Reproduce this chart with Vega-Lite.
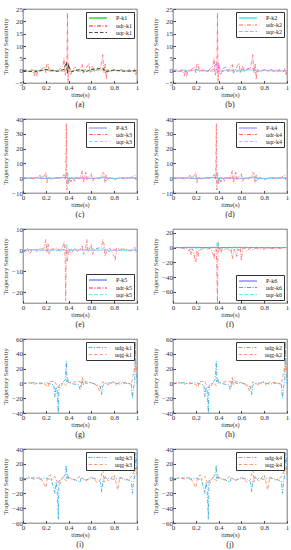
{
"$schema":"https://vega.github.io/schema/vega-lite/v6.json",
"padding":{"left":1,"top":4,"right":1,"bottom":0},
"background":"white",
"datasets":{
"ab":[
{"t":0,"v":0.1,"s":"P"},{"t":0.05,"v":-0.2,"s":"P"},{"t":0.1,"v":0.2,"s":"P"},{"t":0.15,"v":-0.2,"s":"P"},{"t":0.2,"v":0.3,"s":"P"},{"t":0.25,"v":-0.2,"s":"P"},{"t":0.3,"v":0.1,"s":"P"},{"t":0.35,"v":-0.3,"s":"P"},{"t":0.38,"v":0.4,"s":"P"},{"t":0.4,"v":-0.3,"s":"P"},{"t":0.45,"v":0.2,"s":"P"},{"t":0.5,"v":-0.2,"s":"P"},{"t":0.55,"v":0.2,"s":"P"},{"t":0.6,"v":-0.2,"s":"P"},{"t":0.65,"v":0.2,"s":"P"},{"t":0.7,"v":0.3,"s":"P"},{"t":0.75,"v":-0.2,"s":"P"},{"t":0.8,"v":0.1,"s":"P"},{"t":0.85,"v":-0.1,"s":"P"},{"t":0.9,"v":0.1,"s":"P"},{"t":0.95,"v":-0.1,"s":"P"},{"t":1,"v":0,"s":"P"},
{"t":0,"v":0,"s":"udr"},{"t":0.03,"v":0.3,"s":"udr"},{"t":0.05,"v":-0.5,"s":"udr"},{"t":0.08,"v":0.5,"s":"udr"},{"t":0.1,"v":-2,"s":"udr"},{"t":0.11,"v":0.5,"s":"udr"},{"t":0.12,"v":-2.5,"s":"udr"},{"t":0.13,"v":0,"s":"udr"},{"t":0.16,"v":0.5,"s":"udr"},{"t":0.19,"v":1.5,"s":"udr"},{"t":0.2,"v":-0.8,"s":"udr"},{"t":0.21,"v":2.5,"s":"udr"},{"t":0.22,"v":3,"s":"udr"},{"t":0.23,"v":-0.5,"s":"udr"},{"t":0.26,"v":0.3,"s":"udr"},{"t":0.3,"v":-0.5,"s":"udr"},{"t":0.33,"v":1,"s":"udr"},{"t":0.35,"v":2,"s":"udr"},{"t":0.36,"v":5,"s":"udr"},{"t":0.37,"v":-2,"s":"udr"},{"t":0.385,"v":1,"s":"udr"},{"t":0.39,"v":23.5,"s":"udr"},{"t":0.395,"v":-4.5,"s":"udr"},{"t":0.4,"v":3,"s":"udr"},{"t":0.41,"v":-1,"s":"udr"},{"t":0.42,"v":-1.5,"s":"udr"},{"t":0.44,"v":0.8,"s":"udr"},{"t":0.46,"v":1.5,"s":"udr"},{"t":0.48,"v":-0.5,"s":"udr"},{"t":0.5,"v":0.5,"s":"udr"},{"t":0.52,"v":2.5,"s":"udr"},{"t":0.53,"v":-1,"s":"udr"},{"t":0.55,"v":0.8,"s":"udr"},{"t":0.58,"v":3,"s":"udr"},{"t":0.59,"v":-1,"s":"udr"},{"t":0.61,"v":2,"s":"udr"},{"t":0.62,"v":-0.5,"s":"udr"},{"t":0.65,"v":0.5,"s":"udr"},{"t":0.68,"v":1,"s":"udr"},{"t":0.7,"v":6.5,"s":"udr"},{"t":0.71,"v":-1,"s":"udr"},{"t":0.72,"v":3,"s":"udr"},{"t":0.73,"v":-3.5,"s":"udr"},{"t":0.74,"v":0.5,"s":"udr"},{"t":0.77,"v":-0.5,"s":"udr"},{"t":0.8,"v":0.5,"s":"udr"},{"t":0.83,"v":-0.5,"s":"udr"},{"t":0.86,"v":0.5,"s":"udr"},{"t":0.9,"v":-0.3,"s":"udr"},{"t":0.94,"v":0.5,"s":"udr"},{"t":0.97,"v":-0.5,"s":"udr"},{"t":0.98,"v":0.8,"s":"udr"},{"t":0.99,"v":-1.5,"s":"udr"},{"t":1,"v":0,"s":"udr"},
{"t":0,"v":0,"s":"uqr"},{"t":0.1,"v":-0.5,"s":"uqr"},{"t":0.2,"v":0.5,"s":"uqr"},{"t":0.3,"v":-0.3,"s":"uqr"},{"t":0.36,"v":0.5,"s":"uqr"},{"t":0.38,"v":3.5,"s":"uqr"},{"t":0.39,"v":-1,"s":"uqr"},{"t":0.4,"v":2.5,"s":"uqr"},{"t":0.42,"v":-0.5,"s":"uqr"},{"t":0.5,"v":0.5,"s":"uqr"},{"t":0.55,"v":-0.5,"s":"uqr"},{"t":0.6,"v":0.5,"s":"uqr"},{"t":0.7,"v":1,"s":"uqr"},{"t":0.72,"v":-0.5,"s":"uqr"},{"t":0.8,"v":0.3,"s":"uqr"},{"t":0.9,"v":-0.3,"s":"uqr"},{"t":1,"v":0,"s":"uqr"}
],
"cd":[
{"t":0,"v":0,"s":"P"},{"t":0.1,"v":0.2,"s":"P"},{"t":0.2,"v":-0.2,"s":"P"},{"t":0.3,"v":0.2,"s":"P"},{"t":0.38,"v":0.5,"s":"P"},{"t":0.4,"v":-0.3,"s":"P"},{"t":0.5,"v":0.2,"s":"P"},{"t":0.6,"v":-0.2,"s":"P"},{"t":0.7,"v":0.3,"s":"P"},{"t":0.8,"v":-0.2,"s":"P"},{"t":0.9,"v":0.2,"s":"P"},{"t":1,"v":0,"s":"P"},
{"t":0,"v":0,"s":"udr"},{"t":0.05,"v":0.3,"s":"udr"},{"t":0.1,"v":-0.5,"s":"udr"},{"t":0.13,"v":0.5,"s":"udr"},{"t":0.15,"v":2,"s":"udr"},{"t":0.16,"v":-0.5,"s":"udr"},{"t":0.18,"v":1,"s":"udr"},{"t":0.2,"v":4,"s":"udr"},{"t":0.21,"v":-3,"s":"udr"},{"t":0.22,"v":1,"s":"udr"},{"t":0.25,"v":-0.5,"s":"udr"},{"t":0.3,"v":0.5,"s":"udr"},{"t":0.33,"v":-0.5,"s":"udr"},{"t":0.35,"v":1.5,"s":"udr"},{"t":0.36,"v":2.5,"s":"udr"},{"t":0.37,"v":-1,"s":"udr"},{"t":0.375,"v":1,"s":"udr"},{"t":0.38,"v":37,"s":"udr"},{"t":0.385,"v":-8,"s":"udr"},{"t":0.39,"v":3,"s":"udr"},{"t":0.4,"v":-4,"s":"udr"},{"t":0.41,"v":1,"s":"udr"},{"t":0.42,"v":-2.5,"s":"udr"},{"t":0.44,"v":0.5,"s":"udr"},{"t":0.45,"v":-2,"s":"udr"},{"t":0.47,"v":0.5,"s":"udr"},{"t":0.5,"v":-0.5,"s":"udr"},{"t":0.52,"v":5,"s":"udr"},{"t":0.53,"v":-3,"s":"udr"},{"t":0.54,"v":1,"s":"udr"},{"t":0.55,"v":4,"s":"udr"},{"t":0.56,"v":-1,"s":"udr"},{"t":0.58,"v":1,"s":"udr"},{"t":0.6,"v":3,"s":"udr"},{"t":0.61,"v":-2,"s":"udr"},{"t":0.63,"v":0.5,"s":"udr"},{"t":0.66,"v":-0.5,"s":"udr"},{"t":0.69,"v":1,"s":"udr"},{"t":0.7,"v":4,"s":"udr"},{"t":0.71,"v":3,"s":"udr"},{"t":0.72,"v":-3,"s":"udr"},{"t":0.73,"v":2,"s":"udr"},{"t":0.74,"v":-1,"s":"udr"},{"t":0.77,"v":0.5,"s":"udr"},{"t":0.8,"v":-1,"s":"udr"},{"t":0.85,"v":0.5,"s":"udr"},{"t":0.9,"v":-0.5,"s":"udr"},{"t":0.95,"v":0.5,"s":"udr"},{"t":0.98,"v":2,"s":"udr"},{"t":0.99,"v":-1,"s":"udr"},{"t":1,"v":0,"s":"udr"},
{"t":0,"v":0,"s":"uqr"},{"t":0.1,"v":0.3,"s":"uqr"},{"t":0.2,"v":1,"s":"uqr"},{"t":0.21,"v":-0.5,"s":"uqr"},{"t":0.3,"v":0.2,"s":"uqr"},{"t":0.37,"v":0.5,"s":"uqr"},{"t":0.38,"v":3,"s":"uqr"},{"t":0.39,"v":4,"s":"uqr"},{"t":0.4,"v":-2,"s":"uqr"},{"t":0.42,"v":0.5,"s":"uqr"},{"t":0.5,"v":0.3,"s":"uqr"},{"t":0.55,"v":0.5,"s":"uqr"},{"t":0.6,"v":1,"s":"uqr"},{"t":0.62,"v":-0.5,"s":"uqr"},{"t":0.7,"v":1,"s":"uqr"},{"t":0.72,"v":2,"s":"uqr"},{"t":0.73,"v":-2,"s":"uqr"},{"t":0.75,"v":0.3,"s":"uqr"},{"t":0.8,"v":-0.3,"s":"uqr"},{"t":0.9,"v":0.3,"s":"uqr"},{"t":1,"v":0,"s":"uqr"}
],
"e":[
{"t":0,"v":0,"s":"P"},{"t":0.1,"v":0.1,"s":"P"},{"t":0.2,"v":-0.1,"s":"P"},{"t":0.3,"v":0.1,"s":"P"},{"t":0.4,"v":-0.1,"s":"P"},{"t":0.5,"v":0.1,"s":"P"},{"t":0.6,"v":-0.1,"s":"P"},{"t":0.7,"v":0.1,"s":"P"},{"t":0.8,"v":-0.1,"s":"P"},{"t":0.9,"v":0.1,"s":"P"},{"t":1,"v":0,"s":"P"},
{"t":0,"v":0,"s":"udr"},{"t":0.02,"v":-1,"s":"udr"},{"t":0.04,"v":1,"s":"udr"},{"t":0.06,"v":-2,"s":"udr"},{"t":0.08,"v":0.5,"s":"udr"},{"t":0.12,"v":-0.5,"s":"udr"},{"t":0.15,"v":1,"s":"udr"},{"t":0.18,"v":0.5,"s":"udr"},{"t":0.19,"v":2,"s":"udr"},{"t":0.2,"v":5,"s":"udr"},{"t":0.21,"v":-1,"s":"udr"},{"t":0.22,"v":3,"s":"udr"},{"t":0.23,"v":-2,"s":"udr"},{"t":0.25,"v":0.5,"s":"udr"},{"t":0.3,"v":1,"s":"udr"},{"t":0.33,"v":-0.5,"s":"udr"},{"t":0.35,"v":2,"s":"udr"},{"t":0.36,"v":4,"s":"udr"},{"t":0.37,"v":-3,"s":"udr"},{"t":0.375,"v":-24,"s":"udr"},{"t":0.38,"v":1,"s":"udr"},{"t":0.39,"v":-5,"s":"udr"},{"t":0.4,"v":1,"s":"udr"},{"t":0.42,"v":-2,"s":"udr"},{"t":0.45,"v":1,"s":"udr"},{"t":0.48,"v":-0.5,"s":"udr"},{"t":0.5,"v":0.5,"s":"udr"},{"t":0.52,"v":2,"s":"udr"},{"t":0.53,"v":-2,"s":"udr"},{"t":0.55,"v":1,"s":"udr"},{"t":0.56,"v":5,"s":"udr"},{"t":0.57,"v":-1,"s":"udr"},{"t":0.6,"v":3,"s":"udr"},{"t":0.61,"v":-2,"s":"udr"},{"t":0.63,"v":0.5,"s":"udr"},{"t":0.66,"v":1,"s":"udr"},{"t":0.69,"v":1.5,"s":"udr"},{"t":0.7,"v":5,"s":"udr"},{"t":0.71,"v":3,"s":"udr"},{"t":0.72,"v":-3,"s":"udr"},{"t":0.74,"v":0.5,"s":"udr"},{"t":0.76,"v":1,"s":"udr"},{"t":0.78,"v":-1,"s":"udr"},{"t":0.8,"v":-3,"s":"udr"},{"t":0.81,"v":-5,"s":"udr"},{"t":0.82,"v":1,"s":"udr"},{"t":0.85,"v":0.5,"s":"udr"},{"t":0.9,"v":0.5,"s":"udr"},{"t":0.94,"v":-0.5,"s":"udr"},{"t":0.98,"v":1.5,"s":"udr"},{"t":0.99,"v":-1,"s":"udr"},{"t":1,"v":0,"s":"udr"},
{"t":0,"v":0,"s":"uqr"},{"t":0.1,"v":0.3,"s":"uqr"},{"t":0.2,"v":0.5,"s":"uqr"},{"t":0.3,"v":-0.3,"s":"uqr"},{"t":0.37,"v":0.5,"s":"uqr"},{"t":0.38,"v":3,"s":"uqr"},{"t":0.39,"v":-1,"s":"uqr"},{"t":0.4,"v":-1.5,"s":"uqr"},{"t":0.42,"v":0.5,"s":"uqr"},{"t":0.5,"v":0.3,"s":"uqr"},{"t":0.6,"v":0.5,"s":"uqr"},{"t":0.7,"v":0.8,"s":"uqr"},{"t":0.72,"v":1.5,"s":"uqr"},{"t":0.73,"v":-1,"s":"uqr"},{"t":0.8,"v":0.3,"s":"uqr"},{"t":0.9,"v":-0.3,"s":"uqr"},{"t":1,"v":0,"s":"uqr"}
],
"f":[
{"t":0,"v":0,"s":"P"},{"t":0.2,"v":0.2,"s":"P"},{"t":0.4,"v":-0.2,"s":"P"},{"t":0.6,"v":0.2,"s":"P"},{"t":0.8,"v":-0.2,"s":"P"},{"t":1,"v":0,"s":"P"},
{"t":0,"v":0,"s":"udr"},{"t":0.05,"v":-0.5,"s":"udr"},{"t":0.08,"v":-1,"s":"udr"},{"t":0.1,"v":-2,"s":"udr"},{"t":0.12,"v":-1,"s":"udr"},{"t":0.14,"v":-5,"s":"udr"},{"t":0.15,"v":-1,"s":"udr"},{"t":0.16,"v":-10,"s":"udr"},{"t":0.17,"v":-2,"s":"udr"},{"t":0.18,"v":-4,"s":"udr"},{"t":0.19,"v":-15,"s":"udr"},{"t":0.2,"v":-20,"s":"udr"},{"t":0.21,"v":-5,"s":"udr"},{"t":0.22,"v":-12,"s":"udr"},{"t":0.23,"v":-2,"s":"udr"},{"t":0.24,"v":-3,"s":"udr"},{"t":0.27,"v":-1,"s":"udr"},{"t":0.3,"v":-2,"s":"udr"},{"t":0.33,"v":-1,"s":"udr"},{"t":0.35,"v":-8,"s":"udr"},{"t":0.36,"v":-15,"s":"udr"},{"t":0.37,"v":-3,"s":"udr"},{"t":0.38,"v":-2,"s":"udr"},{"t":0.39,"v":-75,"s":"udr"},{"t":0.395,"v":8,"s":"udr"},{"t":0.4,"v":-5,"s":"udr"},{"t":0.41,"v":-1,"s":"udr"},{"t":0.42,"v":-8,"s":"udr"},{"t":0.43,"v":-2,"s":"udr"},{"t":0.45,"v":-3,"s":"udr"},{"t":0.48,"v":-1,"s":"udr"},{"t":0.5,"v":-5,"s":"udr"},{"t":0.51,"v":-2,"s":"udr"},{"t":0.52,"v":-15,"s":"udr"},{"t":0.53,"v":-8,"s":"udr"},{"t":0.54,"v":-2,"s":"udr"},{"t":0.56,"v":-12,"s":"udr"},{"t":0.57,"v":-2,"s":"udr"},{"t":0.58,"v":-5,"s":"udr"},{"t":0.59,"v":-1,"s":"udr"},{"t":0.6,"v":-18,"s":"udr"},{"t":0.61,"v":-2,"s":"udr"},{"t":0.63,"v":-1,"s":"udr"},{"t":0.65,"v":-5,"s":"udr"},{"t":0.67,"v":-1,"s":"udr"},{"t":0.7,"v":-3,"s":"udr"},{"t":0.73,"v":-1,"s":"udr"},{"t":0.75,"v":-2,"s":"udr"},{"t":0.8,"v":-2,"s":"udr"},{"t":0.85,"v":-1,"s":"udr"},{"t":0.9,"v":-2,"s":"udr"},{"t":0.95,"v":-1,"s":"udr"},{"t":1,"v":0,"s":"udr"},
{"t":0,"v":0,"s":"uqr"},{"t":0.1,"v":-0.5,"s":"uqr"},{"t":0.2,"v":-1,"s":"uqr"},{"t":0.3,"v":-0.5,"s":"uqr"},{"t":0.38,"v":1,"s":"uqr"},{"t":0.39,"v":8,"s":"uqr"},{"t":0.4,"v":3,"s":"uqr"},{"t":0.41,"v":-1,"s":"uqr"},{"t":0.5,"v":-0.5,"s":"uqr"},{"t":0.6,"v":-0.5,"s":"uqr"},{"t":0.7,"v":-0.3,"s":"uqr"},{"t":0.8,"v":-0.3,"s":"uqr"},{"t":0.9,"v":-0.2,"s":"uqr"},{"t":1,"v":0,"s":"uqr"}
],
"gh":[
{"t":0,"v":0,"s":"udg"},{"t":0.1,"v":1,"s":"udg"},{"t":0.15,"v":-0.5,"s":"udg"},{"t":0.2,"v":1,"s":"udg"},{"t":0.27,"v":-2,"s":"udg"},{"t":0.28,"v":-18,"s":"udg"},{"t":0.29,"v":-5,"s":"udg"},{"t":0.3,"v":-10,"s":"udg"},{"t":0.31,"v":-40,"s":"udg"},{"t":0.315,"v":-3,"s":"udg"},{"t":0.33,"v":-1,"s":"udg"},{"t":0.36,"v":3,"s":"udg"},{"t":0.37,"v":5,"s":"udg"},{"t":0.38,"v":30,"s":"udg"},{"t":0.385,"v":2,"s":"udg"},{"t":0.39,"v":8,"s":"udg"},{"t":0.4,"v":1,"s":"udg"},{"t":0.45,"v":-1,"s":"udg"},{"t":0.49,"v":-2,"s":"udg"},{"t":0.5,"v":-8,"s":"udg"},{"t":0.51,"v":-3,"s":"udg"},{"t":0.52,"v":2,"s":"udg"},{"t":0.53,"v":5,"s":"udg"},{"t":0.55,"v":0,"s":"udg"},{"t":0.6,"v":1,"s":"udg"},{"t":0.65,"v":-2,"s":"udg"},{"t":0.68,"v":-5,"s":"udg"},{"t":0.69,"v":-15,"s":"udg"},{"t":0.7,"v":-3,"s":"udg"},{"t":0.72,"v":0,"s":"udg"},{"t":0.8,"v":1,"s":"udg"},{"t":0.85,"v":-1,"s":"udg"},{"t":0.9,"v":0.5,"s":"udg"},{"t":0.95,"v":-1,"s":"udg"},{"t":0.96,"v":-20,"s":"udg"},{"t":0.97,"v":-5,"s":"udg"},{"t":0.98,"v":2,"s":"udg"},{"t":0.985,"v":57,"s":"udg"},{"t":0.99,"v":20,"s":"udg"},{"t":1,"v":0,"s":"udg"},
{"t":0,"v":0,"s":"uqg"},{"t":0.05,"v":1,"s":"uqg"},{"t":0.1,"v":-1,"s":"uqg"},{"t":0.15,"v":1,"s":"uqg"},{"t":0.2,"v":-2,"s":"uqg"},{"t":0.22,"v":-5,"s":"uqg"},{"t":0.23,"v":2,"s":"uqg"},{"t":0.28,"v":3,"s":"uqg"},{"t":0.3,"v":-5,"s":"uqg"},{"t":0.33,"v":-6,"s":"uqg"},{"t":0.35,"v":1,"s":"uqg"},{"t":0.38,"v":-3,"s":"uqg"},{"t":0.4,"v":1,"s":"uqg"},{"t":0.5,"v":3,"s":"uqg"},{"t":0.51,"v":-5,"s":"uqg"},{"t":0.52,"v":8,"s":"uqg"},{"t":0.53,"v":-2,"s":"uqg"},{"t":0.55,"v":3,"s":"uqg"},{"t":0.6,"v":1,"s":"uqg"},{"t":0.65,"v":-3,"s":"uqg"},{"t":0.67,"v":-10,"s":"uqg"},{"t":0.68,"v":-5,"s":"uqg"},{"t":0.7,"v":2,"s":"uqg"},{"t":0.75,"v":-2,"s":"uqg"},{"t":0.8,"v":3,"s":"uqg"},{"t":0.82,"v":-3,"s":"uqg"},{"t":0.85,"v":2,"s":"uqg"},{"t":0.9,"v":1,"s":"uqg"},{"t":0.95,"v":-1,"s":"uqg"},{"t":0.99,"v":30,"s":"uqg"},{"t":1,"v":10,"s":"uqg"}
],
"ij":[
{"t":0,"v":0,"s":"udg"},{"t":0.1,"v":1,"s":"udg"},{"t":0.12,"v":2,"s":"udg"},{"t":0.15,"v":-1,"s":"udg"},{"t":0.2,"v":1,"s":"udg"},{"t":0.25,"v":-2,"s":"udg"},{"t":0.28,"v":-20,"s":"udg"},{"t":0.29,"v":-5,"s":"udg"},{"t":0.3,"v":-15,"s":"udg"},{"t":0.31,"v":-55,"s":"udg"},{"t":0.315,"v":-3,"s":"udg"},{"t":0.33,"v":-2,"s":"udg"},{"t":0.36,"v":3,"s":"udg"},{"t":0.37,"v":5,"s":"udg"},{"t":0.38,"v":18,"s":"udg"},{"t":0.385,"v":0,"s":"udg"},{"t":0.39,"v":6,"s":"udg"},{"t":0.4,"v":0,"s":"udg"},{"t":0.45,"v":-1,"s":"udg"},{"t":0.5,"v":-5,"s":"udg"},{"t":0.51,"v":1,"s":"udg"},{"t":0.55,"v":-2,"s":"udg"},{"t":0.6,"v":1,"s":"udg"},{"t":0.65,"v":-1,"s":"udg"},{"t":0.68,"v":-5,"s":"udg"},{"t":0.69,"v":-18,"s":"udg"},{"t":0.7,"v":-2,"s":"udg"},{"t":0.72,"v":1,"s":"udg"},{"t":0.8,"v":-1,"s":"udg"},{"t":0.85,"v":1,"s":"udg"},{"t":0.9,"v":-1,"s":"udg"},{"t":0.95,"v":-3,"s":"udg"},{"t":0.96,"v":-20,"s":"udg"},{"t":0.97,"v":-5,"s":"udg"},{"t":0.98,"v":5,"s":"udg"},{"t":0.99,"v":35,"s":"udg"},{"t":1,"v":10,"s":"udg"},
{"t":0,"v":0,"s":"uqg"},{"t":0.02,"v":-3,"s":"uqg"},{"t":0.05,"v":2,"s":"uqg"},{"t":0.1,"v":-1,"s":"uqg"},{"t":0.15,"v":2,"s":"uqg"},{"t":0.2,"v":-12,"s":"uqg"},{"t":0.21,"v":-3,"s":"uqg"},{"t":0.22,"v":3,"s":"uqg"},{"t":0.24,"v":5,"s":"uqg"},{"t":0.25,"v":-2,"s":"uqg"},{"t":0.28,"v":3,"s":"uqg"},{"t":0.3,"v":-5,"s":"uqg"},{"t":0.32,"v":-8,"s":"uqg"},{"t":0.35,"v":2,"s":"uqg"},{"t":0.38,"v":-3,"s":"uqg"},{"t":0.4,"v":2,"s":"uqg"},{"t":0.45,"v":-2,"s":"uqg"},{"t":0.5,"v":3,"s":"uqg"},{"t":0.55,"v":-3,"s":"uqg"},{"t":0.6,"v":2,"s":"uqg"},{"t":0.65,"v":-5,"s":"uqg"},{"t":0.68,"v":-2,"s":"uqg"},{"t":0.7,"v":15,"s":"uqg"},{"t":0.71,"v":-5,"s":"uqg"},{"t":0.72,"v":3,"s":"uqg"},{"t":0.75,"v":-3,"s":"uqg"},{"t":0.8,"v":5,"s":"uqg"},{"t":0.82,"v":-8,"s":"uqg"},{"t":0.83,"v":-15,"s":"uqg"},{"t":0.85,"v":2,"s":"uqg"},{"t":0.9,"v":-2,"s":"uqg"},{"t":0.95,"v":2,"s":"uqg"},{"t":0.99,"v":15,"s":"uqg"},{"t":1,"v":5,"s":"uqg"}
]
},
"spacing":4,
"resolve":{"scale":{"x":"independent","y":"independent","color":"independent","strokeDash":"independent","strokeWidth":"independent"},"legend":{"color":"independent","strokeDash":"independent","strokeWidth":"independent"}},
"vconcat":[
{"spacing":11,"resolve":{"scale":{"x":"independent","y":"independent","color":"independent","strokeDash":"independent","strokeWidth":"independent"},"legend":{"color":"independent","strokeDash":"independent","strokeWidth":"independent"}},
"hconcat":[
{"width":114,"height":74,"data":{"name":"ab"},"mark":"line","title":"(a)",
"encoding":{
"x":{"field":"t","type":"quantitative","scale":{"domain":[0,1]},"axis":{"values":[0,0.2,0.4,0.6,0.8,1],"title":"time(s)"}},
"y":{"field":"v","type":"quantitative","scale":{"domain":[-5,25],"nice":false},"axis":{"values":[-5,0,5,10,15,20,25],"title":"Trajectory Sensitivity"}},
"color":{"field":"s","type":"nominal","title":null,"scale":{"domain":["P","udr","uqr"],"range":["#5ee65e","#ff6464","#222222"]},"legend":{"labelExpr":"datum.label+'-k1'"}},
"strokeDash":{"field":"s","type":"nominal","title":null,"scale":{"domain":["P","udr","uqr"],"range":[[1,0],[4,1.5,1,1.5],[3.5,2]]},"legend":{"labelExpr":"datum.label+'-k1'"}},
"strokeWidth":{"field":"s","type":"nominal","title":null,"scale":{"domain":["P","udr","uqr"],"range":[1.8,0.8,0.8]},"legend":{"labelExpr":"datum.label+'-k1'"}}}},
{"width":114,"height":74,"data":{"name":"ab"},"mark":"line","title":"(b)",
"encoding":{
"x":{"field":"t","type":"quantitative","scale":{"domain":[0,1]},"axis":{"values":[0,0.2,0.4,0.6,0.8,1],"title":"time(s)"}},
"y":{"field":"v","type":"quantitative","scale":{"domain":[-5,25],"nice":false},"axis":{"values":[-5,0,5,10,15,20,25],"title":"Trajectory Sensitivity"}},
"color":{"field":"s","type":"nominal","title":null,"scale":{"domain":["P","udr","uqr"],"range":["#40e8e8","#ff6464","#ff60ff"]},"legend":{"labelExpr":"datum.label+'-k2'"}},
"strokeDash":{"field":"s","type":"nominal","title":null,"scale":{"domain":["P","udr","uqr"],"range":[[1,0],[4,1.5,1,1.5],[3.5,2]]},"legend":{"labelExpr":"datum.label+'-k2'"}},
"strokeWidth":{"field":"s","type":"nominal","title":null,"scale":{"domain":["P","udr","uqr"],"range":[1.5,0.8,0.8]},"legend":{"labelExpr":"datum.label+'-k2'"}}}}
]},
{"spacing":11,"resolve":{"scale":{"x":"independent","y":"independent","color":"independent","strokeDash":"independent","strokeWidth":"independent"},"legend":{"color":"independent","strokeDash":"independent","strokeWidth":"independent"}},
"hconcat":[
{"width":114,"height":74,"data":{"name":"cd"},"mark":"line","title":"(c)",
"encoding":{
"x":{"field":"t","type":"quantitative","scale":{"domain":[0,1]},"axis":{"values":[0,0.2,0.4,0.6,0.8,1],"title":"time(s)"}},
"y":{"field":"v","type":"quantitative","scale":{"domain":[-10,40],"nice":false},"axis":{"values":[-10,0,10,20,30,40],"title":"Trajectory Sensitivity"}},
"color":{"field":"s","type":"nominal","title":null,"scale":{"domain":["P","udr","uqr"],"range":["#7a7aff","#ff6464","#40e0f0"]},"legend":{"labelExpr":"datum.label+'-k3'"}},
"strokeDash":{"field":"s","type":"nominal","title":null,"scale":{"domain":["P","udr","uqr"],"range":[[1,0],[4,1.5,1,1.5],[3.5,2]]},"legend":{"labelExpr":"datum.label+'-k3'"}},
"strokeWidth":{"field":"s","type":"nominal","title":null,"scale":{"domain":["P","udr","uqr"],"range":[1.2,0.8,1.2]},"legend":{"labelExpr":"datum.label+'-k3'"}}}},
{"width":114,"height":74,"data":{"name":"cd"},"mark":"line","title":"(d)",
"encoding":{
"x":{"field":"t","type":"quantitative","scale":{"domain":[0,1]},"axis":{"values":[0,0.2,0.4,0.6,0.8,1],"title":"time(s)"}},
"y":{"field":"v","type":"quantitative","scale":{"domain":[-10,40],"nice":false},"axis":{"values":[-10,0,10,20,30,40],"title":"Trajectory Sensitivity"}},
"color":{"field":"s","type":"nominal","title":null,"scale":{"domain":["P","udr","uqr"],"range":["#7a7aff","#ff6464","#40e0f0"]},"legend":{"labelExpr":"datum.label+'-k4'"}},
"strokeDash":{"field":"s","type":"nominal","title":null,"scale":{"domain":["P","udr","uqr"],"range":[[1,0],[4,1.5,1,1.5],[3.5,2]]},"legend":{"labelExpr":"datum.label+'-k4'"}},
"strokeWidth":{"field":"s","type":"nominal","title":null,"scale":{"domain":["P","udr","uqr"],"range":[1.2,0.8,1.2]},"legend":{"labelExpr":"datum.label+'-k4'"}}}}
]},
{"spacing":11,"resolve":{"scale":{"x":"independent","y":"independent","color":"independent","strokeDash":"independent","strokeWidth":"independent"},"legend":{"color":"independent","strokeDash":"independent","strokeWidth":"independent"}},
"hconcat":[
{"width":114,"height":74,"data":{"name":"e"},"mark":"line","title":"(e)",
"encoding":{
"x":{"field":"t","type":"quantitative","scale":{"domain":[0,1]},"axis":{"values":[0,0.2,0.4,0.6,0.8,1],"title":"time(s)"}},
"y":{"field":"v","type":"quantitative","scale":{"domain":[-25,10],"nice":false},"axis":{"values":[-20,-10,0,10],"title":"Trajectory Sensitivity"}},
"color":{"field":"s","type":"nominal","title":null,"scale":{"domain":["P","udr","uqr"],"range":["#a0a6ff","#ff7070","#40e0f0"]},"legend":{"orient":"bottom-right","labelExpr":"datum.label+'-k5'"}},
"strokeDash":{"field":"s","type":"nominal","title":null,"scale":{"domain":["P","udr","uqr"],"range":[[1,0],[4,1.5,1,1.5],[3.5,2]]},"legend":{"orient":"bottom-right","labelExpr":"datum.label+'-k5'"}},
"strokeWidth":{"field":"s","type":"nominal","title":null,"scale":{"domain":["P","udr","uqr"],"range":[2,0.8,0.9]},"legend":{"orient":"bottom-right","labelExpr":"datum.label+'-k5'"}}}},
{"width":114,"height":74,"data":{"name":"f"},"mark":"line","title":"(f)",
"encoding":{
"x":{"field":"t","type":"quantitative","scale":{"domain":[0,1]},"axis":{"values":[0,0.2,0.4,0.6,0.8,1],"title":"time(s)"}},
"y":{"field":"v","type":"quantitative","scale":{"domain":[-75,25],"nice":false},"axis":{"values":[-60,-40,-20,0,20],"title":"Trajectory Sensitivity"}},
"color":{"field":"s","type":"nominal","title":null,"scale":{"domain":["P","udr","uqr"],"range":["#5a5aff","#ff6464","#40e0f0"]},"legend":{"orient":"bottom-right","labelExpr":"datum.label+'-k6'"}},
"strokeDash":{"field":"s","type":"nominal","title":null,"scale":{"domain":["P","udr","uqr"],"range":[[1,0],[4,1.5,1,1.5],[3.5,2]]},"legend":{"orient":"bottom-right","labelExpr":"datum.label+'-k6'"}},
"strokeWidth":{"field":"s","type":"nominal","title":null,"scale":{"domain":["P","udr","uqr"],"range":[1.2,0.8,1.2]},"legend":{"orient":"bottom-right","labelExpr":"datum.label+'-k6'"}}}}
]},
{"spacing":11,"resolve":{"scale":{"x":"independent","y":"independent","color":"independent","strokeDash":"independent","strokeWidth":"independent"},"legend":{"color":"independent","strokeDash":"independent","strokeWidth":"independent"}},
"hconcat":[
{"width":114,"height":74,"data":{"name":"gh"},"mark":"line","title":"(g)",
"encoding":{
"x":{"field":"t","type":"quantitative","scale":{"domain":[0,1]},"axis":{"values":[0,0.2,0.4,0.6,0.8,1],"title":"time(s)"}},
"y":{"field":"v","type":"quantitative","scale":{"domain":[-40,60],"nice":false},"axis":{"values":[-40,-20,0,20,40,60],"title":"Trajectory Sensitivity"}},
"color":{"field":"s","type":"nominal","title":null,"scale":{"domain":["udg","uqg"],"range":["#2aa6e0","#ff8050"]},"legend":{"labelExpr":"datum.label+'-k1'"}},
"strokeDash":{"field":"s","type":"nominal","title":null,"scale":{"domain":["udg","uqg"],"range":[[4,1.5,1,1.5],[3.5,2]]},"legend":{"labelExpr":"datum.label+'-k1'"}}}},
{"width":114,"height":74,"data":{"name":"gh"},"mark":"line","title":"(h)",
"encoding":{
"x":{"field":"t","type":"quantitative","scale":{"domain":[0,1]},"axis":{"values":[0,0.2,0.4,0.6,0.8,1],"title":"time(s)"}},
"y":{"field":"v","type":"quantitative","scale":{"domain":[-40,60],"nice":false},"axis":{"values":[-40,-20,0,20,40,60],"title":"Trajectory Sensitivity"}},
"color":{"field":"s","type":"nominal","title":null,"scale":{"domain":["udg","uqg"],"range":["#2aa6e0","#ff8050"]},"legend":{"labelExpr":"datum.label+'-k2'"}},
"strokeDash":{"field":"s","type":"nominal","title":null,"scale":{"domain":["udg","uqg"],"range":[[4,1.5,1,1.5],[3.5,2]]},"legend":{"labelExpr":"datum.label+'-k2'"}}}}
]},
{"spacing":11,"resolve":{"scale":{"x":"independent","y":"independent","color":"independent","strokeDash":"independent","strokeWidth":"independent"},"legend":{"color":"independent","strokeDash":"independent","strokeWidth":"independent"}},
"hconcat":[
{"width":114,"height":74,"data":{"name":"ij"},"mark":"line","title":"(i)",
"encoding":{
"x":{"field":"t","type":"quantitative","scale":{"domain":[0,1]},"axis":{"values":[0,0.2,0.4,0.6,0.8,1],"title":"time(s)"}},
"y":{"field":"v","type":"quantitative","scale":{"domain":[-60,40],"nice":false},"axis":{"values":[-60,-40,-20,0,20,40],"title":"Trajectory Sensitivity"}},
"color":{"field":"s","type":"nominal","title":null,"scale":{"domain":["udg","uqg"],"range":["#2aa6e0","#ff8050"]},"legend":{"labelExpr":"datum.label+'-k3'"}},
"strokeDash":{"field":"s","type":"nominal","title":null,"scale":{"domain":["udg","uqg"],"range":[[4,1.5,1,1.5],[3.5,2]]},"legend":{"labelExpr":"datum.label+'-k3'"}}}},
{"width":114,"height":74,"data":{"name":"ij"},"mark":"line","title":"(j)",
"encoding":{
"x":{"field":"t","type":"quantitative","scale":{"domain":[0,1]},"axis":{"values":[0,0.2,0.4,0.6,0.8,1],"title":"time(s)"}},
"y":{"field":"v","type":"quantitative","scale":{"domain":[-60,40],"nice":false},"axis":{"values":[-60,-40,-20,0,20,40],"title":"Trajectory Sensitivity"}},
"color":{"field":"s","type":"nominal","title":null,"scale":{"domain":["udg","uqg"],"range":["#2aa6e0","#ff8050"]},"legend":{"labelExpr":"datum.label+'-k4'"}},
"strokeDash":{"field":"s","type":"nominal","title":null,"scale":{"domain":["udg","uqg"],"range":[[4,1.5,1,1.5],[3.5,2]]},"legend":{"labelExpr":"datum.label+'-k4'"}}}}
]}
],
"config":{
"font":"Liberation Serif",
"view":{"stroke":"#444444","strokeWidth":0.7},
"axis":{"grid":false,"domain":false,"labelFont":"Liberation Serif","labelFontSize":7,"labelColor":"#333333","tickColor":"#444444","tickSize":-2.5,"labelPadding":3,"titleFont":"Liberation Serif","titleFontSize":6.5,"titleFontWeight":"normal","titleColor":"#333333","labelFlush":false},
"axisY":{"minExtent":13,"maxExtent":13,"titlePadding":2},
"axisX":{"titlePadding":1,"format":".1~f"},
"legend":{"orient":"top-right","offset":3,"fillColor":"white","strokeColor":"#333333","padding":2,"labelFont":"Liberation Serif","labelFontSize":6,"labelColor":"#222222","symbolType":"M-3,0H3","symbolSize":36,"symbolOffset":6,"labelOffset":14,"rowPadding":0,"labelLimit":60},
"title":{"orient":"bottom","font":"Liberation Serif","fontSize":8,"fontWeight":"normal","offset":3,"color":"#222222"},
"line":{"strokeWidth":0.8,"clip":true}
}
}
